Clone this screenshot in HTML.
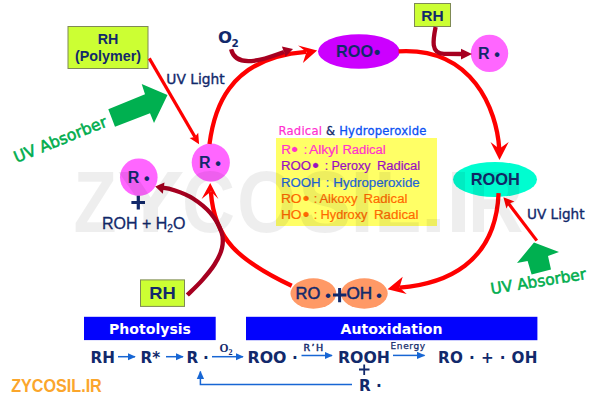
<!DOCTYPE html>
<html>
<head>
<meta charset="utf-8">
<title>Photo-oxidation cycle</title>
<style>
html,body{margin:0;padding:0;background:#fff;}
body{width:600px;height:405px;overflow:hidden;}
svg{display:block;}
.v{font-family:"DejaVu Sans","Liberation Sans",sans-serif;}
.a{font-family:"Liberation Sans",sans-serif;}
.s{font-family:"Liberation Serif",serif;}
.navy{fill:#12296b;}
</style>
</head>
<body>
<svg width="600" height="405" viewBox="0 0 600 405">
<defs>
<marker id="mb" viewBox="0 0 10 10" refX="7.5" refY="5" markerWidth="10" markerHeight="10" markerUnits="userSpaceOnUse" orient="auto">
<path d="M0,1.3 L8.3,5 L0,8.7 Z" fill="#1766d4"/>
</marker>
</defs>
<rect width="600" height="405" fill="#ffffff"/>



<!-- legend -->
<rect x="276" y="138" width="161" height="88" fill="#ffff66"/>
<text class="v" x="278.5" y="134.5" font-size="11.6" textLength="148" lengthAdjust="spacing"><tspan fill="#ff2fd0" stroke="#ff2fd0" stroke-width="0.2">Radical</tspan><tspan fill="#12296b" stroke="#12296b" stroke-width="0.3"> &amp; </tspan><tspan fill="#0a50f2" stroke="#0a50f2" stroke-width="0.3">Hydroperoxide</tspan></text>
<g class="a" font-size="12.5">
<text y="153.8" fill="#ff33cc" stroke="#ff33cc" stroke-width="0.2"><tspan x="281.2" textLength="9.7" lengthAdjust="spacingAndGlyphs">R</tspan><tspan x="291.3" font-size="19" dy="2.1">•</tspan><tspan x="300.2" dy="-2.1"> :</tspan><tspan x="305.8" textLength="32.6" lengthAdjust="spacingAndGlyphs"> Alkyl</tspan><tspan x="338.8" textLength="46.9" lengthAdjust="spacingAndGlyphs"> Radical</tspan></text>
<text y="170.3" fill="#9a0fc2" stroke="#9a0fc2" stroke-width="0.2"><tspan x="280.9" textLength="30.2" lengthAdjust="spacingAndGlyphs">ROO</tspan><tspan x="312.3" font-size="19" dy="2.1">•</tspan><tspan x="321.2" dy="-2.1"> :</tspan><tspan x="327.9" textLength="42.7" lengthAdjust="spacingAndGlyphs"> Peroxy</tspan><tspan x="373.3" textLength="46.9" lengthAdjust="spacingAndGlyphs"> Radical</tspan></text>
<text y="186.5" fill="#1e66d8" stroke="#1e66d8" stroke-width="0.2"><tspan x="280.9" textLength="39.7" lengthAdjust="spacingAndGlyphs">ROOH</tspan><tspan x="322.4"> :</tspan><tspan x="329.7" textLength="90.0" lengthAdjust="spacingAndGlyphs"> Hydroperoxide</tspan></text>
<text y="202.5" fill="#ff6a00" stroke="#ff6a00" stroke-width="0.2"><tspan x="280.9" textLength="20.7" lengthAdjust="spacingAndGlyphs">RO</tspan><tspan x="302.7" font-size="19" dy="2.1">•</tspan><tspan x="310.4" dy="-2.1"> :</tspan><tspan x="316.5" textLength="41.1" lengthAdjust="spacingAndGlyphs"> Alkoxy</tspan><tspan x="359.8" textLength="47.6" lengthAdjust="spacingAndGlyphs"> Radical</tspan></text>
<text y="218.8" fill="#ff6a00" stroke="#ff6a00" stroke-width="0.2"><tspan x="280.9" textLength="20.7" lengthAdjust="spacingAndGlyphs">HO</tspan><tspan x="302.7" font-size="19" dy="2.1">•</tspan><tspan x="310.4" dy="-2.1"> :</tspan><tspan x="317.0" textLength="50.5" lengthAdjust="spacingAndGlyphs"> Hydroxy</tspan><tspan x="370.2" textLength="48.3" lengthAdjust="spacingAndGlyphs"> Radical</tspan></text>
</g>

<!-- green block arrows -->
<path d="M108.3,109.3 L145,94.3 L141.7,84 L167.5,95 L154,123 L150,113.3 L115,126.7 Z" fill="#00b050"/>
<path d="M534,242.6 L559,252 L548,256 L551,269.4 L531.6,274.6 L527.6,261 L517,263 Z" fill="#00b050"/>
<text class="v" font-size="15.8" fill="#00ad4e" transform="translate(16.5,163) rotate(-22)" x="0" y="0" stroke="#00ad4e" stroke-width="0.55">UV Absorber</text>
<text class="v" font-size="15.4" fill="#00ad4e" transform="translate(491.6,294.2) rotate(-9.1)" x="0" y="0" stroke="#00ad4e" stroke-width="0.55">UV Absorber</text>

<!-- boxes -->
<rect x="68" y="26.5" width="80" height="42" fill="#ccff33" stroke="#7f8a55" stroke-width="1"/>
<text class="a navy" x="108" y="43.5" font-size="14.3" font-weight="bold" text-anchor="middle">RH</text>
<text class="a navy" x="108" y="61" font-size="14.3" font-weight="bold" text-anchor="middle">(Polymer)</text>

<rect x="414.5" y="3.5" width="36" height="23" fill="#ccff33" stroke="#7f8a55" stroke-width="1"/>
<text class="a navy" x="432.4" y="20.6" font-size="15.5" font-weight="bold" text-anchor="middle">RH</text>

<rect x="140.5" y="279.9" width="44" height="26.5" fill="#ccff33" stroke="#7f8a55" stroke-width="1"/>
<text class="a navy" x="149.2" y="299" font-size="16.7" font-weight="bold" textLength="26.5" lengthAdjust="spacingAndGlyphs">RH</text>

<!-- nodes -->
<ellipse cx="358.9" cy="51.5" rx="40.9" ry="17.3" fill="#cc00ff"/>
<text class="a navy" font-size="16.3" font-weight="bold"><tspan x="336.1" y="57.4">ROO</tspan><tspan x="374" y="58.4" font-size="18">•</tspan></text>

<circle cx="489.5" cy="53.4" r="18.7" fill="#ff66ff"/>
<text class="a navy" font-size="16" font-weight="bold"><tspan x="477.9" y="59.4">R</tspan><tspan x="494.2" y="59.9">•</tspan></text>

<ellipse cx="495" cy="179.5" rx="42" ry="17.5" fill="#00fdd0"/>
<text class="a navy" x="470.7" y="185" font-size="16.3" font-weight="bold" textLength="49.2" lengthAdjust="spacingAndGlyphs">ROOH</text>

<circle cx="210.8" cy="162.6" r="19.1" fill="#ff66ff"/>
<text class="a navy" font-size="16" font-weight="bold"><tspan x="198.9" y="168.1">R</tspan><tspan x="215.2" y="169.3">•</tspan></text>

<circle cx="138.8" cy="177.2" r="18.8" fill="#ff66ff"/>
<text class="a navy" font-size="16" font-weight="bold"><tspan x="127.7" y="182.8">R</tspan><tspan x="143.9" y="183.5">•</tspan></text>

<ellipse cx="313.4" cy="293.5" rx="22.9" ry="15.2" fill="#ff9966"/>
<ellipse cx="364.3" cy="293.5" rx="23.4" ry="15.2" fill="#ff9966"/>
<text class="a navy" font-size="15.8" stroke="#12296b" stroke-width="0.5"><tspan x="295.5" y="299" textLength="24.7" lengthAdjust="spacingAndGlyphs">RO</tspan><tspan x="325.1" y="300.5" font-size="17" stroke="none">•</tspan></text>
<text class="a navy" font-size="15.8" stroke="#12296b" stroke-width="0.5"><tspan x="346.5" y="299" textLength="25.7" lengthAdjust="spacingAndGlyphs">OH</tspan><tspan x="376" y="300.5" font-size="17" stroke="none">•</tspan></text>
<path d="M333,294.9 H346.4 M339.6,288.1 V302.3" stroke="#12296b" stroke-width="3" fill="none"/>

<!-- red cycle arcs -->
<g fill="none" stroke="#fe0000" stroke-width="4.3" stroke-linecap="butt">
<path d="M209.5,144.0 C213.5,113.3 225.7,57.9 306.0,51.8"/>
<path d="M398.6,51.3 C472.8,46.9 496.7,109.7 499.3,149.0"/>
<path d="M498.6,193.1 C495.6,264.3 444.6,284.0 399.5,287.6"/>
<path d="M291.7,285.8 C238.7,260.5 214.2,239.5 210.9,192"/>
<path d="M149.3,58.4 L195,137" stroke-width="3.2"/>
<path d="M536.8,240.6 L508.5,203.5" stroke-width="3.2"/>
</g>
<g fill="#fe0000">
<path d="M317.1,50.4 L298.1,45.5 L306.5,52 L302.9,63 Z"/>
<path d="M499.5,160 L490.5,142 L499.3,148.7 L508.7,142 Z"/>
<path d="M387.5,289.3 L402.7,276.7 L399.5,287.5 L406.7,294 Z"/>
<path d="M210.2,182.9 L201.6,199.1 L211,191.5 L218.4,199.1 Z"/>
<path d="M199.1,144.2 L189.6,138 L194.9,137.1 L198.2,132.8 Z"/>
<path d="M503.4,197.2 L514.4,201.6 L508.9,203.8 L506.4,208.5 Z"/>
</g>

<!-- dark red arrows -->
<g fill="none" stroke="#a60020" stroke-width="4.3" stroke-linecap="butt">
<path d="M187.3,295.1 C189.7,292.7 197.3,285.7 201.8,280.6 C206.3,275.5 211.1,269.9 214.5,264.5 C217.9,259.1 220.8,253.4 222.0,248.0 C223.2,242.6 223.4,238.0 221.5,232.2 C219.6,226.4 215.2,218.8 210.5,213.2 C205.8,207.6 198.9,202.3 193.0,198.5 C187.1,194.7 180.8,192.4 175.0,190.5 C169.2,188.6 165,188 162.5,187.7"/>
<path d="M231.1,49.3 C236.7,72.6 274,55 284,52"/>
<path d="M435.6,27 C433,40 430.5,53.8 444,53.8 L462,54"/>
</g>
<g fill="#a60020">
<path d="M155.2,186.6 L164.5,182.5 L162.8,193.8 Z"/>
<path d="M293,48.9 L281.9,46.6 L285.6,56.8 Z"/>
<path d="M472,54 L461,48.7 L461,59.5 Z"/>
</g>

<!-- misc labels -->
<text class="v navy" x="218" y="43.3" font-size="16.5" font-weight="bold">O<tspan font-size="10.5" dy="3.2" dx="-0.5">2</tspan></text>
<text class="v navy" x="166.3" y="84.2" font-size="13.8" stroke="#12296b" stroke-width="0.35">UV Light</text>
<text class="v navy" x="527" y="219.3" font-size="13.6" stroke="#12296b" stroke-width="0.35">UV Light</text>
<path d="M131.4,202.5 H145 M138.3,195.8 V209.4" stroke="#12296b" stroke-width="3.2" fill="none"/>
<text class="a navy" x="102" y="228.5" font-size="16" stroke="#12296b" stroke-width="0.3">ROH + H<tspan font-size="10" dy="3">2</tspan><tspan dy="-3">O</tspan></text>

<!-- bottom bars -->
<rect x="84" y="316.8" width="131.7" height="23.3" fill="#0303fd"/>
<text class="v" x="150" y="334" font-size="14.5" font-weight="bold" fill="#fff" text-anchor="middle" textLength="82" lengthAdjust="spacingAndGlyphs">Photolysis</text>
<rect x="246" y="316.8" width="291.4" height="23.4" fill="#0303fd"/>
<text class="v" x="391.5" y="334" font-size="14.5" font-weight="bold" fill="#fff" text-anchor="middle" textLength="102" lengthAdjust="spacingAndGlyphs">Autoxidation</text>

<!-- reaction scheme -->
<g class="v navy" font-size="15.2" font-weight="bold">
<text x="90.5" y="362.6">RH</text>
<text x="140.5" y="362.6">R*</text>
<text x="186.5" y="362.6">R</text>
<text x="203" y="362.6">·</text>
<text x="247.5" y="362.6" textLength="39" lengthAdjust="spacingAndGlyphs">ROO</text>
<text x="292" y="362.6">·</text>
<text x="338" y="362.6" textLength="52" lengthAdjust="spacingAndGlyphs">ROOH</text>
<text x="438" y="362.6" textLength="99.5" lengthAdjust="spacing">RO · + · OH</text>
<text x="359" y="390.8">R</text>
<text x="376" y="390.8">·</text>
</g>
<path d="M359,369.5 H369.5 M364.2,364.5 V375" stroke="#12296b" stroke-width="1.8" fill="none"/>
<g fill="none" stroke="#1766d4" stroke-width="1.5">
<path d="M118,356.7 H135" marker-end="url(#mb)"/>
<path d="M166,356.7 H183" marker-end="url(#mb)"/>
<path d="M212,356.7 H243" marker-end="url(#mb)"/>
<path d="M301.5,355.5 H332" marker-end="url(#mb)"/>
<path d="M393,355.4 H424.5" marker-end="url(#mb)"/>
<path d="M352,384.6 H200.4 V371.6" marker-end="url(#mb)"/>
</g>
<text class="s navy" x="219.6" y="352.3" font-size="11.5" font-weight="bold">O<tspan font-size="8" dy="2.6">2</tspan></text>
<text class="v navy" x="303.6" y="351.2" font-size="9.5" textLength="19.6" lengthAdjust="spacing" stroke="#12296b" stroke-width="0.45">R’H</text>
<text class="v navy" x="390.6" y="348.6" font-size="9" textLength="34.4" lengthAdjust="spacing" stroke="#12296b" stroke-width="0.25">Energy</text>

<!-- logo text -->
<text class="a" x="11.2" y="391.5" font-size="17.6" font-weight="bold" fill="#fba62c" textLength="90.6" lengthAdjust="spacingAndGlyphs">ZYCOSIL.IR</text>

<!-- watermark overlay (very faint, over shapes) -->
<text class="a" y="231.5" font-size="87" font-weight="bold" fill="#000" fill-opacity="0.066" lengthAdjust="spacingAndGlyphs"><tspan lengthAdjust="spacingAndGlyphs" x="73.4" textLength="43.2">Z</tspan><tspan lengthAdjust="spacingAndGlyphs" x="116.8" textLength="67.9">Y</tspan><tspan lengthAdjust="spacingAndGlyphs" x="182.0" textLength="53.0">C</tspan><tspan lengthAdjust="spacingAndGlyphs" x="236.9" textLength="59.3">O</tspan><tspan lengthAdjust="spacingAndGlyphs" x="298.2" textLength="53.4">S</tspan><tspan lengthAdjust="spacingAndGlyphs" x="350.0" textLength="24.1">I</tspan><tspan lengthAdjust="spacingAndGlyphs" x="374.2" textLength="46.9">L</tspan><tspan lengthAdjust="spacingAndGlyphs" x="420.3" textLength="26.2">.</tspan><tspan lengthAdjust="spacingAndGlyphs" x="446.0" textLength="25.1">I</tspan><tspan lengthAdjust="spacingAndGlyphs" x="467.8" textLength="55.8">R</tspan></text>
</svg>
</body>
</html>
